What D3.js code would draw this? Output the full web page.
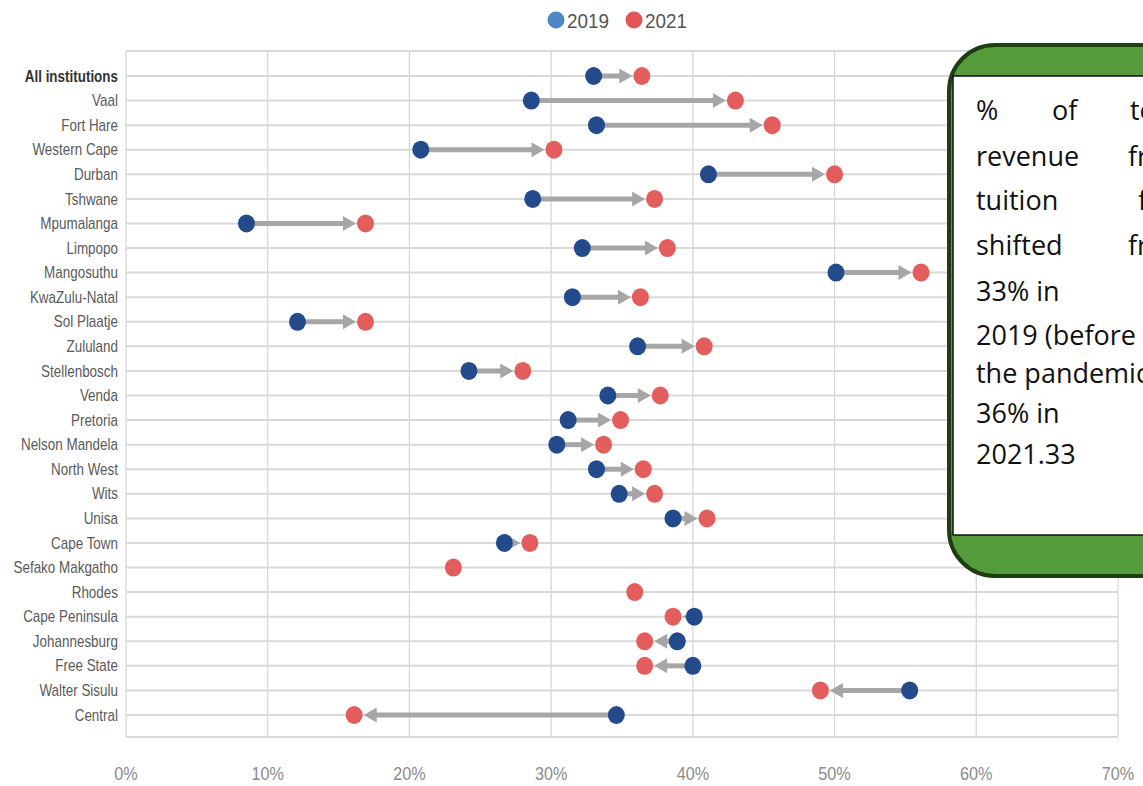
<!DOCTYPE html>
<html>
<head>
<meta charset="utf-8">
<script src="https://cdn.jsdelivr.net/npm/d3@7"></script>
<style>
  html, body { margin: 0; padding: 0; background: #fff; overflow: hidden; }
  svg { display: block; }
</style>
</head>
<body>
<svg id="chart" width="1143" height="786"></svg>
<script>
const categories = ["All institutions","Vaal","Fort Hare","Western Cape","Durban","Tshwane","Mpumalanga","Limpopo","Mangosuthu","KwaZulu-Natal","Sol Plaatje","Zululand","Stellenbosch","Venda","Pretoria","Nelson Mandela","North West","Wits","Unisa","Cape Town","Sefako Makgatho","Rhodes","Cape Peninsula","Johannesburg","Free State","Walter Sisulu","Central"];
const values2019 = [33.0,28.6,33.2,20.8,41.1,28.7,8.5,32.2,50.1,31.5,12.1,36.1,24.2,34.0,31.2,30.4,33.2,34.8,38.6,26.7,null,null,40.1,38.9,40.0,55.3,34.6];
const values2021 = [36.4,43.0,45.6,30.2,50.0,37.3,16.9,38.2,56.1,36.3,16.9,40.8,28.0,37.7,34.9,33.7,36.5,37.3,41.0,28.5,23.1,35.9,38.6,36.6,36.6,49.0,16.1];
const tickValues = [0,10,20,30,40,50,60,70];
const seriesNames = ["2019","2021"];
const calloutLines = [
  [["%",976],["of",1052],["total",1130]],
  [["revenue",976],["from",1128]],
  [["tuition",976],["fees",1138]],
  [["shifted",976],["from",1128]],
  [["33% in",976]],
  [["2019 (before",976]],
  [["the pandemic)",976]],
  [["36% in",976]],
  [["2021.33",976]]
];
const calloutBaselines = [120,166,210,255,301,345,383,423,464];

const svg = d3.select("#chart");
const x = d3.scaleLinear().domain([0,70]).range([126,1118]);
const y = d3.scalePoint().domain(categories).range([76,715]);
const plotTop = 51, plotBottom = 737;

const blue = "#234b8c", red = "#e35d5d", arrowCol = "#a6a6a6";
const narrowFont = "'Liberation Sans', Arial, sans-serif";

// vertical gridlines
svg.append("g").selectAll("line").data(tickValues).join("line")
  .attr("x1", d => x(d)).attr("x2", d => x(d))
  .attr("y1", plotTop).attr("y2", plotBottom)
  .attr("stroke", "#d4d4d4").attr("stroke-width", 1.2);

// horizontal gridlines
const hy = [plotTop].concat(categories.map(c => y(c))).concat([plotBottom]);
svg.append("g").selectAll("line").data(hy).join("line")
  .attr("x1", x(0)).attr("x2", x(70))
  .attr("y1", d => d).attr("y2", d => d)
  .attr("stroke", "#d9d9d9").attr("stroke-width", 2);

// x axis labels
const xAxis = d3.axisBottom(x).tickValues(tickValues).tickFormat(d => d + "%").tickSize(0).tickPadding(0);
const gx = svg.append("g").attr("transform", `translate(0,${plotBottom})`).call(xAxis);
gx.select(".domain").remove();
gx.selectAll("text").attr("dy", 0).attr("y", 43)
  .attr("font-family", narrowFont)
  .attr("font-size", 18).attr("fill", "#8a8a8a")
  .attr("transform", "scale(0.9,1)");
gx.selectAll(".tick").each(function(d) {
  d3.select(this).attr("transform", `translate(${x(d)},0)`);
});

// y axis labels
const yAxis = d3.axisLeft(y).tickSize(0).tickPadding(0);
const gy = svg.append("g").attr("transform", "translate(118,0)").call(yAxis);
gy.select(".domain").remove();
gy.selectAll("text")
  .attr("font-family", narrowFont)
  .attr("font-size", 16)
  .attr("transform", "scale(0.84,1)")
  .attr("font-weight", d => d === "All institutions" ? "bold" : "normal")
  .attr("fill", d => d === "All institutions" ? "#333" : "#5a5a5a");

// data rows
const rows = categories.map((c, i) => ({c, a: values2019[i], b: values2021[i]}));
const r = 8.5, headLen = 13, headHalf = 7.5;

const arrows = svg.append("g");
rows.filter(d => d.a != null && d.b != null).forEach(d => {
  const xa = x(d.a), xb = x(d.b), yy = y(d.c);
  const s = Math.sign(xb - xa);
  const tip = xb - s * (r + 1);
  const base = tip - s * headLen;
  arrows.append("line")
    .attr("x1", xa).attr("x2", base + s * 1).attr("y1", yy).attr("y2", yy)
    .attr("stroke", arrowCol).attr("stroke-width", 5);
  arrows.append("path")
    .attr("d", `M${tip},${yy} L${base},${yy - headHalf} L${base},${yy + headHalf} Z`)
    .attr("fill", arrowCol);
});

svg.append("g").selectAll("ellipse").data(rows.filter(d => d.a != null)).join("ellipse")
  .attr("cx", d => x(d.a)).attr("cy", d => y(d.c)).attr("rx", r).attr("ry", r + 0.5).attr("fill", blue);
svg.append("g").selectAll("ellipse").data(rows.filter(d => d.b != null)).join("ellipse")
  .attr("cx", d => x(d.b)).attr("cy", d => y(d.c)).attr("rx", r).attr("ry", r + 0.5).attr("fill", red);

// legend
const legend = svg.append("g");
const legendItems = [{name: seriesNames[0], col: "#4d86c6", cx: 556, tx: 567},
                     {name: seriesNames[1], col: "#e35555", cx: 634, tx: 645}];
legendItems.forEach(l => {
  legend.append("circle").attr("cx", l.cx).attr("cy", 20).attr("r", 8.5).attr("fill", l.col);
  legend.append("text").attr("x", 0).attr("y", 0).text(l.name)
    .attr("transform", `translate(${l.tx},28) scale(0.9,1)`)
    .attr("font-family", narrowFont)
    .attr("font-size", 21).attr("fill", "#555");
});

// callout
const co = svg.append("g");
co.append("rect").attr("x", 949).attr("y", 45).attr("width", 400).attr("height", 531)
  .attr("rx", 46).attr("ry", 46).attr("fill", "#539b3b").attr("stroke", "#1f3d13").attr("stroke-width", 4);
co.append("rect").attr("x", 953).attr("y", 76).attr("width", 400).attr("height", 459)
  .attr("fill", "#fff").attr("stroke", "#111").attr("stroke-width", 1.5);
calloutLines.forEach((line, i) => {
  line.forEach(([w, wx]) => {
    co.append("text").attr("x", wx).attr("y", calloutBaselines[i]).text(w)
      .attr("font-family", "'Open Sans', sans-serif").attr("font-size", 27)
      .attr("fill", "#111");
  });
});
</script>
</body>
</html>
